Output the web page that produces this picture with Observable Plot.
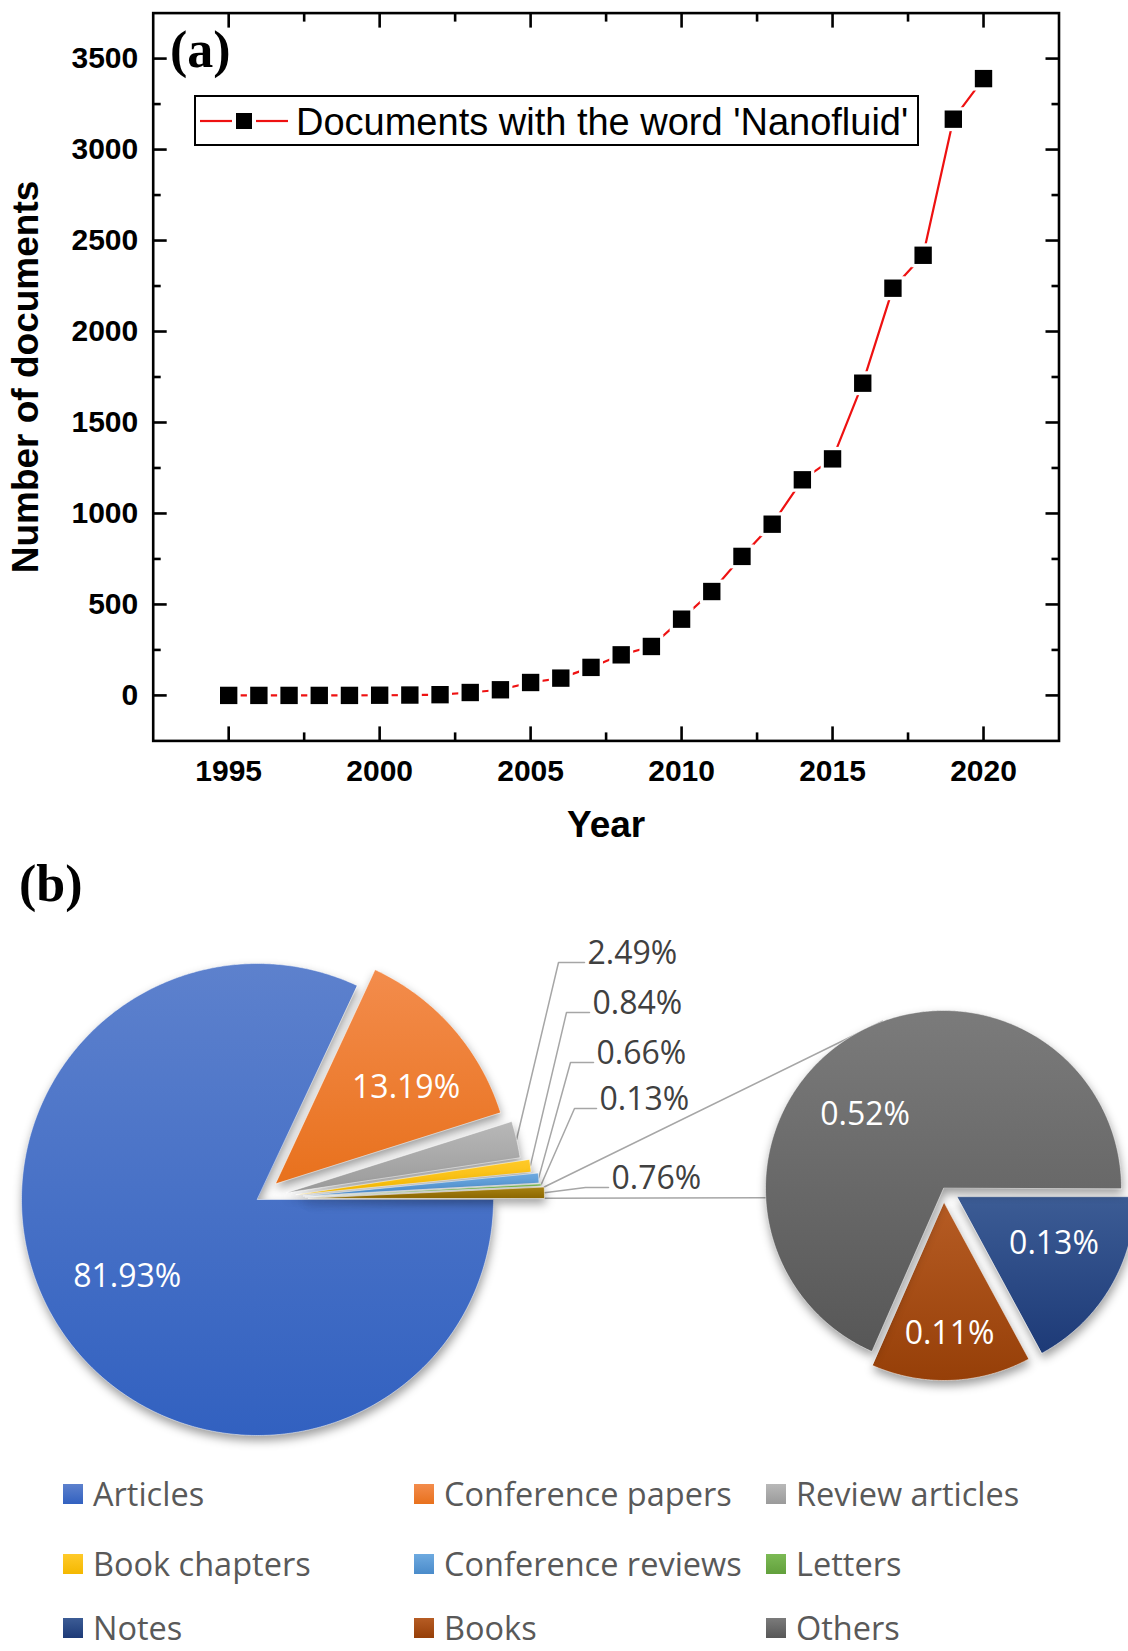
<!DOCTYPE html>
<html>
<head>
<meta charset="utf-8">
<script src="https://cdn.jsdelivr.net/npm/d3@7"></script>
<script src="https://cdn.jsdelivr.net/npm/@observablehq/plot@0.6"></script>
<style>
  html, body { margin: 0; padding: 0; background: #fff; }
  #page { position: relative; width: 1128px; height: 1651px; overflow: hidden; background: #fff; }
  .abs { position: absolute; }
  .panel-label { font-family: 'Liberation Serif', 'Times New Roman', serif; font-weight: bold; font-size: 52px; line-height: 1; color: #000; }
  #legendA { left: 194px; top: 95px; width: 725px; height: 51px; border: 2px solid #000; box-sizing: border-box; background: #fff;
             font-family: 'Liberation Sans', Arial, sans-serif; font-size: 38px; color: #000; }
  #legendA svg { position: absolute; left: 2px; top: 0; }
  #legendA span { position: absolute; left: 100px; top: 3px; line-height: 44px; white-space: nowrap; }
  .leg-item { position: absolute; display: flex; align-items: center; height: 32px; line-height: 1; font-family: 'Open Sans', sans-serif; font-size: 32.5px; color: #595959; white-space: nowrap; }
  .leg-sw { width: 20px; height: 20px; margin-right: 10px; flex: none; }
  .slice { filter: drop-shadow(1px 5px 5px rgba(0,0,0,0.38)); }
</style>
</head>
<body>
<div id="page">
  <div id="panelA" class="abs" style="left:0;top:0"></div>
  <div id="panelB" class="abs" style="left:0;top:860px"></div>
  <div class="abs panel-label" style="left:170px;top:24px">(a)</div>
  <div class="abs panel-label" style="left:19px;top:858px">(b)</div>
  <div id="legendA" class="abs"></div>
  <div id="legendB"></div>
</div>
<script>
// ---------------- Data: panel (a) ----------------
const years = [1995, 1996, 1997, 1998, 1999, 2000, 2001, 2002, 2003, 2004, 2005, 2006, 2007,
               2008, 2009, 2010, 2011, 2012, 2013, 2014, 2015, 2016, 2017, 2018, 2019, 2020];
const documents = [0, 0, 0, 0, 0, 1, 2, 4, 16, 31, 71, 95, 154,
                   223, 269, 419, 571, 764, 941, 1185, 1300, 1716, 2238, 2419, 3167, 3390];
const seriesName = "Documents with the word 'Nanofluid'";
const xMajorTicks = [1995, 2000, 2005, 2010, 2015, 2020];
const xMinorTicks = [1997.5, 2002.5, 2007.5, 2012.5, 2017.5];
const yMajorTicks = [0, 500, 1000, 1500, 2000, 2500, 3000, 3500];
const yMinorTicks = [250, 750, 1250, 1750, 2250, 2750, 3250];
const xTitle = "Year";
const yTitle = "Number of documents";

// ---------------- Data: panel (b) ----------------
const mainCategories = ["Articles", "Conference papers", "Review articles", "Book chapters", "Conference reviews", "Letters", "Other"];
const mainShares = [81.93, 13.19, 2.49, 0.84, 0.66, 0.13, 0.76];
const subCategories = ["Notes", "Books", "Others"];
const subShares = [0.13, 0.11, 0.52];
const legendCategories = ["Articles", "Conference papers", "Review articles", "Book chapters", "Conference reviews", "Letters", "Notes", "Books", "Others"];

// ---------------- Styles ----------------
const baseColor = {
  "Articles": "#4472c4", "Conference papers": "#ed7d31", "Review articles": "#a5a5a5",
  "Book chapters": "#ffc000", "Conference reviews": "#5b9bd5", "Letters": "#70ad47",
  "Notes": "#264478", "Books": "#9e480e", "Others": "#636363", "Other": "#997300"
};
const gradColor = {
  "Articles": ["#5d81cd", "#3261c0"], "Conference papers": ["#f38c4c", "#e8711d"],
  "Review articles": ["#b8b8b8", "#9a9a9a"], "Book chapters": ["#ffca2a", "#f4b800"],
  "Conference reviews": ["#6eaae0", "#4a8bca"], "Letters": ["#7cba55", "#62a03c"],
  "Other": ["#a88212", "#8c6700"], "Notes": ["#3c5c95", "#1d3a77"],
  "Books": ["#b65c24", "#963f08"], "Others": ["#7b7b7b", "#575757"]
};

// gradient defs (referenced by url())
const defs = d3.select("body").append("svg").attr("width", 0).attr("height", 0)
  .style("position", "absolute").append("defs");
const gradByColor = {};
Object.keys(gradColor).forEach((k, i) => {
  const id = "grad" + i; gradByColor[baseColor[k]] = id;
  const g = defs.append("linearGradient").attr("id", id).attr("x1", 0).attr("y1", 0).attr("x2", 0).attr("y2", 1);
  g.append("stop").attr("offset", "0%").attr("stop-color", gradColor[k][0]);
  g.append("stop").attr("offset", "100%").attr("stop-color", gradColor[k][1]);
});

// ---------------- Panel (a) ----------------
const series = years.map((year, i) => ({year, count: documents[i]}));
const fontA = "'Liberation Sans', Arial, Helvetica, sans-serif";
const axisStroke = 2.6;
const inward = (axis, anchor, values, size) =>
  axis(values, {anchor, tickSize: -size, tickFormat: () => "", strokeWidth: axisStroke, label: null});

const chartA = Plot.plot({
  width: 1128, height: 860,
  marginTop: 12.6, marginRight: 69.5, marginBottom: 119.6, marginLeft: 152.7,
  style: {fontFamily: fontA, background: "transparent", color: "#000", overflow: "visible"},
  x: {domain: [1992.5, 2022.5]},
  y: {domain: [-250, 3750]},
  marks: [
    Plot.axisX(xMajorTicks, {anchor: "bottom", tickSize: 0, tickPadding: 19, fontSize: 30, fontWeight: "bold", tickFormat: d => String(d), label: null}),
    Plot.axisY(yMajorTicks, {anchor: "left", tickSize: 0, tickPadding: 15, fontSize: 30, fontWeight: "bold", tickFormat: d => String(d), label: null}),
    inward(Plot.axisX, "bottom", xMajorTicks, 14), inward(Plot.axisX, "bottom", xMinorTicks, 8),
    inward(Plot.axisX, "top", xMajorTicks, 14), inward(Plot.axisX, "top", xMinorTicks, 8),
    inward(Plot.axisY, "left", yMajorTicks, 14), inward(Plot.axisY, "left", yMinorTicks, 8),
    inward(Plot.axisY, "right", yMajorTicks, 14), inward(Plot.axisY, "right", yMinorTicks, 8),
    Plot.frame({stroke: "#000", strokeWidth: axisStroke}),
    Plot.line(series, {x: "year", y: "count", stroke: "#ee1111", strokeWidth: 2.2}),
    Plot.dot(series, {x: "year", y: "count", symbol: "square", r: 13.5, fill: "#fff", stroke: "none"}),
    Plot.dot(series, {x: "year", y: "count", symbol: "square", r: 9.8, fill: "#000", stroke: "none"}),
    Plot.text([xTitle], {text: d => d, frameAnchor: "bottom", dy: 84, lineAnchor: "middle", textAnchor: "middle", fontSize: 37, fontWeight: "bold"}),
    Plot.text([yTitle], {text: d => d, frameAnchor: "left", dx: -126.7, rotate: -90, lineAnchor: "middle", textAnchor: "middle", fontSize: 37, fontWeight: "bold"})
  ]
});
document.getElementById("panelA").append(chartA);

// legend of panel (a)
const legA = document.getElementById("legendA");
legA.innerHTML = `<svg width="100" height="47">
  <line x1="2" y1="24" x2="34" y2="24" stroke="#ee1111" stroke-width="2.2"/>
  <rect x="38" y="16" width="16" height="16" fill="#000"/>
  <line x1="58" y1="24" x2="90" y2="24" stroke="#ee1111" stroke-width="2.2"/>
</svg><span></span>`;
legA.querySelector("span").textContent = seriesName;

// ---------------- Panel (b) ----------------
const OFFY = 860;
const mainLayout = {cx: 257, cy: 1199, r: 236,
  explode: {"Conference papers": 24, "Review articles": 30, "Book chapters": 39, "Conference reviews": 46, "Letters": 48, "Other": 51}};
const subLayout = {cx: 943, cy: 1188, r: 178, explode: {"Notes": 16, "Books": 14}};

function buildPie(keys, values, {cx, cy, r, explode}) {
  const arcs = d3.pie().sort(null).startAngle(Math.PI / 2).endAngle(Math.PI / 2 + 2 * Math.PI)(values);
  return arcs.map((a, i) => {
    const key = keys[i];
    const mid = (a.startAngle + a.endAngle) / 2;
    const e = explode[key] ?? 0;
    const ox = cx + e * Math.sin(mid), oy = cy - e * Math.cos(mid);
    const at = (t, rr) => ({x: ox + rr * Math.sin(t), y: oy - rr * Math.cos(t)});
    const n = Math.max(2, Math.ceil((a.endAngle - a.startAngle) / (Math.PI / 360)));
    const pts = [{x: ox, y: oy}];
    for (let k = 0; k <= n; k++) pts.push(at(a.startAngle + (a.endAngle - a.startAngle) * k / n, r));
    return {key, value: values[i], start: a.startAngle, end: a.endAngle, mid, ox, oy, r, pts, at};
  });
}
const mainPie = buildPie(mainCategories, mainShares, mainLayout);
const subPie = buildPie(subCategories, subShares, subLayout);
const fmt = v => v.toFixed(2) + "%";

const sliceMarks = [...mainPie, ...subPie].map(s =>
  Plot.line(s.pts, {x: "x", y: "y", curve: "linear-closed", fill: baseColor[s.key],
    stroke: "#ffffff", strokeOpacity: 0.5, strokeWidth: 1}));

// inside labels (radial fraction along bisector, plus nudges)
const insideLabel = {
  "Articles": {f: 0.64, dx: -3, dy: -4}, "Conference papers": {f: 0.68, dx: 10, dy: 10},
  "Others": {f: 0.6, dx: -20, dy: 16}, "Notes": {f: 0.6, dx: 5, dy: -8}, "Books": {f: 0.74, dx: 0, dy: 0}
};
const insideTexts = [...mainPie, ...subPie].filter(s => insideLabel[s.key]).map(s => {
  const L = insideLabel[s.key]; const p = s.at(s.mid, s.r * L.f);
  return {x: p.x + L.dx, y: p.y + L.dy, text: fmt(s.value)};
});

// outside labels with leader lines
const outsideLayout = {
  "Review articles": {corner: [558, 962], end: [584, 962]},
  "Book chapters": {corner: [566, 1012], end: [589, 1012]},
  "Conference reviews": {corner: [570, 1062], end: [593, 1062]},
  "Letters": {corner: [574, 1108], end: [596, 1108]},
  "Other": {corner: [585, 1187], end: [608, 1187]}
};
const leaderPts = [], outsideTexts = [];
mainPie.filter(s => outsideLayout[s.key]).forEach(s => {
  const L = outsideLayout[s.key]; const p = s.at(s.mid, s.r);
  leaderPts.push({k: s.key, x: p.x, y: p.y}, {k: s.key, x: L.corner[0], y: L.corner[1]}, {k: s.key, x: L.end[0], y: L.end[1]});
  outsideTexts.push({x: L.end[0] + 3, y: L.end[1] + 1, text: fmt(s.value)});
});

// series lines from the "Other" slice to the second pie
const other = mainPie.find(s => s.key === "Other");
const sub = subLayout;
const subPoint = t => ({x: sub.cx + sub.r * Math.sin(t), y: sub.cy - sub.r * Math.cos(t)});
const connectorPts = [
  {k: "top", ...other.at(other.start, other.r)}, {k: "top", ...subPoint(340 * Math.PI / 180)},
  {k: "bottom", ...other.at(other.end, other.r)}, {k: "bottom", ...subPoint(267 * Math.PI / 180)}
];

const fontB = "'Open Sans', 'Noto Sans', sans-serif";
const chartB = Plot.plot({
  width: 1128, height: 791, margin: 0,
  x: {domain: [0, 1128], axis: null},
  y: {domain: [OFFY + 791, OFFY], axis: null},
  style: {fontFamily: fontB, background: "transparent", overflow: "visible"},
  marks: [
    Plot.line(connectorPts, {x: "x", y: "y", z: "k", stroke: "#a6a6a6", strokeWidth: 1.5}),
    Plot.line(leaderPts, {x: "x", y: "y", z: "k", stroke: "#a6a6a6", strokeWidth: 1.5}),
    ...sliceMarks,
    Plot.text(insideTexts, {x: "x", y: "y", text: "text", fill: "#fff", fontSize: 32, lineAnchor: "middle", textAnchor: "middle"}),
    Plot.text(outsideTexts, {x: "x", y: "y", text: "text", fill: "#404040", fontSize: 32, lineAnchor: "bottom", textAnchor: "start"})
  ]
});
// swap flat slice colours for their vertical gradients and add soft shadows
d3.select(chartB).selectAll("g, path").each(function() {
  const f = (this.getAttribute("fill") || "").toLowerCase();
  if (gradByColor[f]) {
    this.setAttribute("fill", `url(#${gradByColor[f]})`);
    this.classList.add("slice");
  }
});
document.getElementById("panelB").append(chartB);

// legend of panel (b)
const legCols = [63, 414, 766], legRows = [1494, 1564, 1628];
const legB = document.getElementById("legendB");
legendCategories.forEach((name, i) => {
  const item = document.createElement("div");
  item.className = "leg-item";
  item.style.left = legCols[i % 3] + "px";
  item.style.top = (legRows[Math.floor(i / 3)] - 16) + "px";
  const sw = document.createElement("span");
  sw.className = "leg-sw";
  sw.style.background = `linear-gradient(${gradColor[name][0]}, ${gradColor[name][1]})`;
  const tx = document.createElement("span");
  tx.textContent = name;
  item.append(sw, tx);
  legB.append(item);
});
</script>
</body>
</html>
